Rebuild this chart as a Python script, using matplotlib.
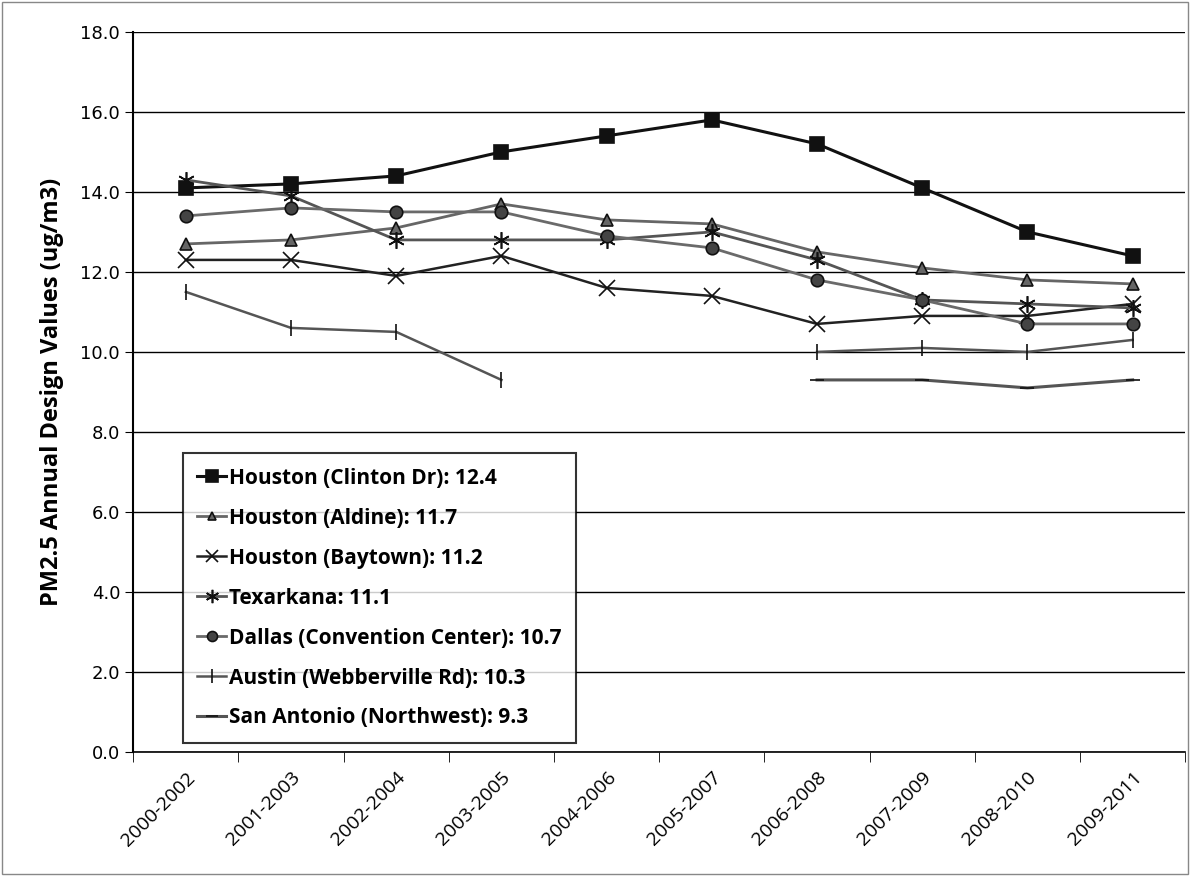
import matplotlib.pyplot as plt
import numpy as np
from matplotlib.patches import Rectangle

periods = ["2000-2002", "2001-2003", "2002-2004", "2003-2005", "2004-2006",
           "2005-2007", "2006-2008", "2007-2009", "2008-2010", "2009-2011"]

nan = np.nan
clinton = [14.1, 14.2, 14.4, 15.0, 15.4, 15.8, 15.2, 14.1, 13.0, 12.4]
aldine = [12.7, 12.8, 13.1, 13.7, 13.3, 13.2, 12.5, 12.1, 11.8, 11.7]
baytown = [12.3, 12.3, 11.9, 12.4, 11.6, 11.4, 10.7, 10.9, 10.9, 11.2]
texarkana = [14.3, 13.9, 12.8, 12.8, 12.8, 13.0, 12.3, 11.3, 11.2, 11.1]
dallas = [13.4, 13.6, 13.5, 13.5, 12.9, 12.6, 11.8, 11.3, 10.7, 10.7]
austin = [11.5, 10.6, 10.5, 9.3, nan, nan, 10.0, 10.1, 10.0, 10.3]
san_antonio = [nan, nan, nan, nan, nan, nan, 9.3, 9.3, 9.1, 9.3]

labels = ["Houston (Clinton Dr): 12.4", "Houston (Aldine): 11.7",
          "Houston (Baytown): 11.2", "Texarkana: 11.1",
          "Dallas (Convention Center): 10.7", "Austin (Webberville Rd): 10.3",
          "San Antonio (Northwest): 9.3"]

fig = plt.figure(figsize=(11.9, 8.76), dpi=100)
ax = fig.add_axes([0.112, 0.1416, 0.884, 0.822])

x = np.arange(len(periods))

# style per series: (data, color, marker, markersize, linewidth)
styles = [
    (clinton, "#111111", "s", 10, 2.2),
    (aldine, "#666666", "^", 8, 2.0),
    (baytown, "#222222", "x", 11, 1.8),
    (texarkana, "#555555", (6, 2, 0), 12, 2.0),
    (dallas, "#6a6a6a", "o", 9, 2.0),
    (austin, "#555555", "|", 12, 1.8),
    (san_antonio, "#555555", "_", 10, 2.2),
]

for (data, color, marker, ms, lw), lab in zip(styles, labels):
    d = np.array(data, dtype=float)
    mfc = color
    if marker == "o":
        mfc = "#444444"
    ax.plot(x, d, color=color, marker=marker, markersize=ms, linewidth=lw,
            markerfacecolor=mfc, markeredgecolor="#111111", markeredgewidth=1.2,
            label=lab)

ax.set_xlim(-0.5, len(periods) - 0.5)
ax.set_ylim(0, 18)
ax.set_yticks(np.arange(0, 18.1, 2.0))
ax.set_yticklabels(["%.1f" % v for v in np.arange(0, 18.1, 2.0)],
                   fontsize=13, family="DejaVu Sans")
ax.set_xticks(x)
ax.set_xticklabels(periods, rotation=45, ha="right", rotation_mode="anchor",
                   fontsize=14, family="Open Sans")
ax.tick_params(axis="x", length=0, pad=12)
ax.set_xticks(np.arange(-0.5, len(periods)), minor=True)
ax.tick_params(axis="x", which="minor", length=7, color="black")
ax.tick_params(axis="y", length=6, color="black")

ax.yaxis.grid(True, color="black", linewidth=1.0)
ax.set_axisbelow(True)
for side in ["top", "right"]:
    ax.spines[side].set_visible(False)
ax.spines["left"].set_linewidth(1.5)
ax.spines["bottom"].set_linewidth(1.2)

ax.set_ylabel("PM2.5 Annual Design Values (ug/m3)", fontsize=17,
              fontweight="bold", family="Open Sans", labelpad=12)

leg = ax.legend(loc="upper left", bbox_to_anchor=(0.047, 0.415),
                borderaxespad=0, frameon=True, fancybox=False, edgecolor="black",
                prop={"family": "Open Sans", "weight": "bold", "size": 15},
                handlelength=1.4, handletextpad=0.1, labelspacing=0.91,
                borderpad=0.7, markerscale=0.8)
leg.get_frame().set_linewidth(1.5)

fig.patches.append(Rectangle((0.002, 0.002), 0.996, 0.996, transform=fig.transFigure,
                             fill=False, edgecolor="#888888", linewidth=1.0))

fig.savefig("out.png", dpi=100)
